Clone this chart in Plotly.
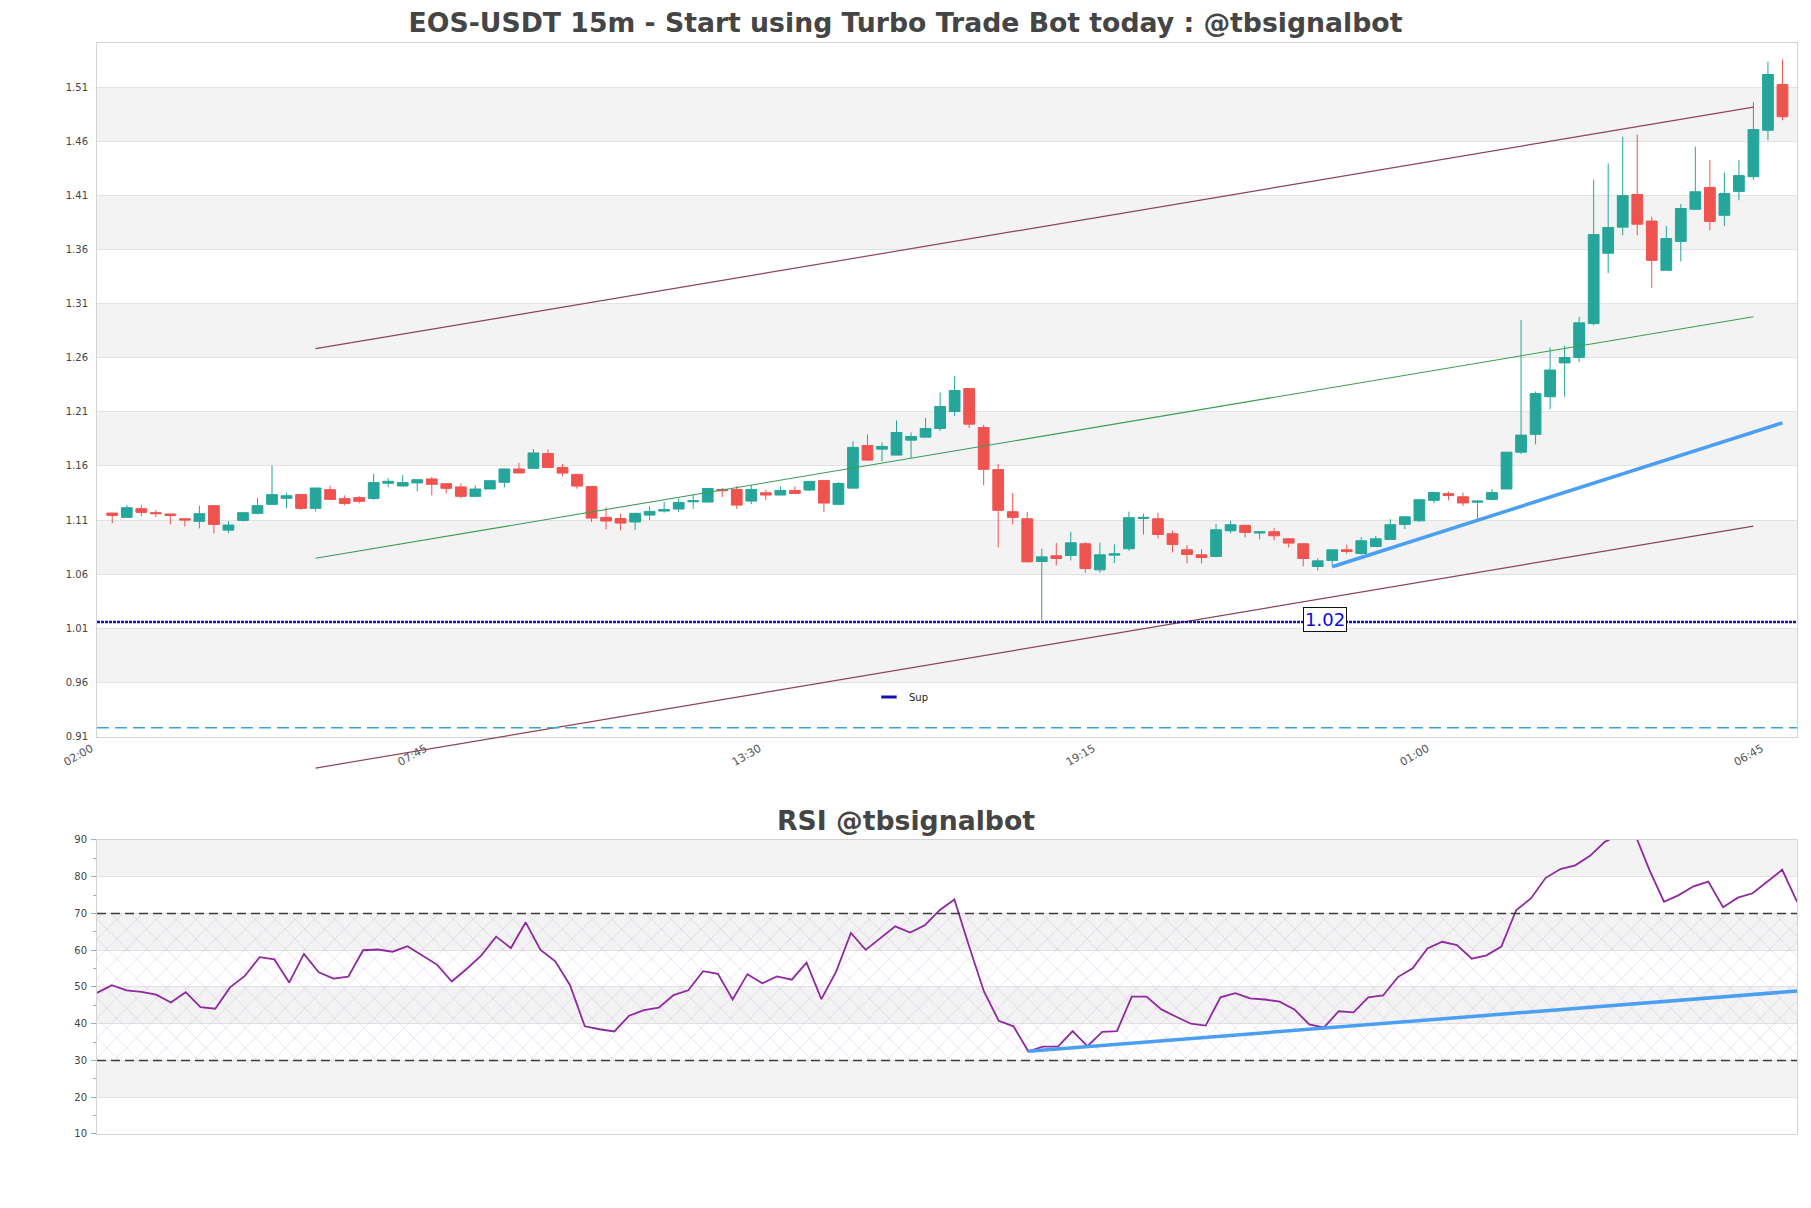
import pandas as pd
import plotly.graph_objects as go

# ---------------- data ----------------
start_time = "2023-03-20 02:00"
n_candles = 116
times = pd.date_range(start_time, periods=n_candles, freq="15min")

opens = [1.1165, 1.1125, 1.1205, 1.1168, 1.1156, 1.1112, 1.1088, 1.1233, 1.1007, 1.1097,
         1.1162, 1.1245, 1.1301, 1.1335, 1.1208, 1.1381, 1.1298, 1.1307, 1.1298, 1.1440,
         1.1415, 1.1443, 1.1480, 1.1436, 1.1406, 1.1319, 1.1387, 1.1449, 1.1572, 1.1578,
         1.1715, 1.1586, 1.1522, 1.1411, 1.1125, 1.1115, 1.1082, 1.1146, 1.1183, 1.1202,
         1.1269, 1.1266, 1.1383, 1.1383, 1.1275, 1.1352, 1.1331, 1.1374, 1.1377, 1.1466,
         1.1245, 1.1395, 1.1789, 1.1755, 1.1700, 1.1838, 1.1866, 1.1946, 1.2103, 1.2315,
         1.1955, 1.1566, 1.1177, 1.1112, 1.0717, 1.0770, 1.0773, 1.0881, 1.0640, 1.0776,
         1.0835, 1.1115, 1.1112, 1.0973, 1.0825, 1.0779, 1.0764, 1.1001, 1.1051, 1.0980,
         1.0992, 1.0927, 1.0881, 1.0671, 1.0727, 1.0825, 1.0791, 1.0856, 1.0921, 1.1060,
         1.1093, 1.1282, 1.1344, 1.1315, 1.1265, 1.1291, 1.1387, 1.1727, 1.1892, 1.2239,
         1.2552, 1.2602, 1.2915, 1.3565, 1.3806, 1.4107, 1.3862, 1.3407, 1.3674, 1.3971,
         1.4173, 1.3915, 1.4136, 1.4272, 1.4701, 1.5123]
highs = [1.1165, 1.1239, 1.1239, 1.1193, 1.1156, 1.1112, 1.1233, 1.1239, 1.1091, 1.1168,
         1.1307, 1.1603, 1.1353, 1.1335, 1.1396, 1.1418, 1.1328, 1.1322, 1.1529, 1.1489,
         1.1517, 1.1473, 1.1498, 1.1436, 1.1436, 1.1421, 1.1464, 1.1572, 1.1628, 1.1757,
         1.1752, 1.1620, 1.1522, 1.1411, 1.1217, 1.1158, 1.1168, 1.1229, 1.1269, 1.1297,
         1.1337, 1.1392, 1.1398, 1.1414, 1.1423, 1.1377, 1.1414, 1.1411, 1.1457, 1.1466,
         1.1451, 1.1826, 1.1891, 1.1817, 1.2020, 1.1909, 1.2045, 1.2278, 1.2429, 1.2315,
         1.1980, 1.1619, 1.1350, 1.1174, 1.0835, 1.0887, 1.0992, 1.0896, 1.0890, 1.0875,
         1.1177, 1.1159, 1.1168, 1.1004, 1.0869, 1.0831, 1.1066, 1.1094, 1.1051, 1.0998,
         1.1029, 1.0927, 1.0881, 1.0748, 1.0831, 1.0872, 1.0943, 1.0955, 1.1109, 1.1130,
         1.1288, 1.1364, 1.1364, 1.1354, 1.1281, 1.1387, 1.1727, 1.2948, 1.2288, 1.2694,
         1.2711, 1.2978, 1.4245, 1.4394, 1.4641, 1.4661, 1.3902, 1.3816, 1.4021, 1.4549,
         1.4427, 1.4311, 1.4427, 1.4961, 1.5334, 1.5354]
lows = [1.1072, 1.1125, 1.1134, 1.1128, 1.1060, 1.1041, 1.1023, 1.0977, 1.0977, 1.1088,
        1.1152, 1.1239, 1.1208, 1.1193, 1.1180, 1.1291, 1.1236, 1.1254, 1.1288, 1.1402,
        1.1412, 1.1365, 1.1328, 1.1347, 1.1301, 1.1319, 1.1387, 1.1402, 1.1535, 1.1572,
        1.1586, 1.1506, 1.1389, 1.1082, 1.1014, 1.1005, 1.1008, 1.1100, 1.1168, 1.1174,
        1.1202, 1.1266, 1.1312, 1.1202, 1.1248, 1.1285, 1.1331, 1.1346, 1.1368, 1.1174,
        1.1238, 1.1395, 1.1645, 1.1642, 1.1700, 1.1672, 1.1866, 1.1922, 1.2060, 1.1949,
        1.1421, 1.0847, 1.1060, 1.0708, 1.0177, 1.0680, 1.0727, 1.0615, 1.0615, 1.0702,
        1.0816, 1.0967, 1.0930, 1.0801, 1.0699, 1.0699, 1.0757, 1.0977, 1.0940, 1.0921,
        1.0912, 1.0847, 1.0671, 1.0634, 1.0671, 1.0788, 1.0779, 1.0856, 1.0921, 1.1017,
        1.1083, 1.1255, 1.1282, 1.1229, 1.1083, 1.1281, 1.1387, 1.1711, 1.1800, 1.2123,
        1.2239, 1.2559, 1.2899, 1.3381, 1.3730, 1.3730, 1.3242, 1.3407, 1.3489, 1.3971,
        1.3777, 1.3816, 1.4054, 1.4242, 1.4608, 1.4793]
closes = [1.1143, 1.1214, 1.1171, 1.1159, 1.1143, 1.1100, 1.1159, 1.1060, 1.1054, 1.1168,
          1.1233, 1.1335, 1.1325, 1.1208, 1.1396, 1.1291, 1.1254, 1.1273, 1.1446, 1.1458,
          1.1446, 1.1473, 1.1430, 1.1393, 1.1319, 1.1387, 1.1464, 1.1572, 1.1535, 1.1720,
          1.1586, 1.1534, 1.1414, 1.1118, 1.1091, 1.1072, 1.1162, 1.1180, 1.1198, 1.1263,
          1.1278, 1.1392, 1.1371, 1.1238, 1.1383, 1.1331, 1.1374, 1.1346, 1.1457, 1.1257,
          1.1438, 1.1771, 1.1654, 1.1780, 1.1909, 1.1872, 1.1946, 1.2149, 1.2297, 1.1986,
          1.1569, 1.1190, 1.1125, 1.0714, 1.0760, 1.0745, 1.0890, 1.0652, 1.0779, 1.0788,
          1.1122, 1.1125, 1.0967, 1.0875, 1.0782, 1.0754, 1.1010, 1.1057, 1.0986, 1.0992,
          1.0955, 1.0887, 1.0745, 1.0723, 1.0825, 1.0810, 1.0909, 1.0927, 1.1057, 1.1130,
          1.1288, 1.1354, 1.1328, 1.1258, 1.1275, 1.1354, 1.1727, 1.1885, 1.2268, 1.2486,
          1.2602, 1.2922, 1.3737, 1.3803, 1.4097, 1.3833, 1.3499, 1.3701, 1.3978, 1.4133,
          1.3859, 1.4117, 1.4282, 1.4707, 1.5216, 1.4826]

rsi = [48.4, 50.5, 49.1, 48.7, 47.9, 45.8, 48.6, 44.5, 44.1, 49.9,
       53.0, 58.1, 57.5, 51.2, 59.0, 54.0, 52.3, 52.8, 60.0, 60.2,
       59.6, 61.1, 58.6, 56.1, 51.5, 54.9, 58.6, 63.7, 60.6, 67.6,
       60.1, 57.0, 50.5, 39.3, 38.5, 37.9, 42.2, 43.7, 44.4, 47.8,
       49.1, 54.3, 53.6, 46.6, 53.5, 51.0, 52.9, 52.0, 56.6, 46.7,
       54.2, 64.7, 60.1, 63.4, 66.5, 64.8, 66.8, 70.9, 73.8, 61.0,
       48.8, 40.8, 39.3, 32.5, 33.8, 33.8, 38.0, 33.9, 37.8, 38.0,
       47.4, 47.4, 43.9, 41.9, 40.0, 39.5, 47.2, 48.3, 46.9, 46.6,
       46.0, 43.9, 39.8, 39.0, 43.4, 43.1, 47.2, 47.7, 52.7, 55.1,
       60.5, 62.3, 61.4, 57.7, 58.6, 61.0, 70.9, 74.1, 79.7, 82.1,
       83.1, 85.7, 89.5, 91.5, 92.0, 82.0, 73.2, 75.0, 77.4, 78.7,
       71.7, 74.3, 75.5, 78.7, 81.9, 73.2]

tick_idx = [0, 23, 46, 69, 92, 115]
tick_text = ["02:00", "07:45", "13:30", "19:15", "01:00", "06:45"]
y_ticks = [0.91, 0.96, 1.01, 1.06, 1.11, 1.16, 1.21, 1.26, 1.31, 1.36, 1.41, 1.46, 1.51]
y_range = [0.9096, 1.5507]
rsi_ticks = [10, 20, 30, 40, 50, 60, 70, 80, 90]

# trend / channel lines: candle index and price of both ends
channel_idx = [14, 113]
channel_upper = [1.2683, 1.4914]
channel_mid = [1.0747, 1.2978]
channel_lower = [0.8809, 1.1044]
trend_idx = [84, 115]
trend_price = [1.0669, 1.1998]
sup_level = 1.0158
sup_label = "1.02"
sup_label_idx = 83.5
low_dash_level = 0.9182

rsi_hi, rsi_lo = 70, 30
rsi_trend_idx = [63, 115]
rsi_trend_val = [32.5, 48.9]

# ---------------- styles ----------------
FONT = "DejaVu Sans"
UP, DOWN = "#26a69a", "#ef5350"
BAND = "#f3f3f3"
GRID = "#e2e2e2"
AXLINE = "#d4d4d4"
TREND_BLUE = "#4a9ff2"
step = pd.Timedelta(minutes=15)

# page has an 8px body margin: figure is 1795x1192, placed at (8, 8)
FIG_W, FIG_H = 1795, 1192

fig = go.Figure()

fig.add_trace(go.Candlestick(
    x=times, open=opens, high=highs, low=lows, close=closes,
    increasing=dict(line=dict(color=UP, width=1), fillcolor=UP),
    decreasing=dict(line=dict(color=DOWN, width=1), fillcolor=DOWN),
    whiskerwidth=0, showlegend=False, xaxis="x", yaxis="y", hoverinfo="skip"))

cx = [times[i] for i in channel_idx]
fig.add_trace(go.Scatter(x=cx, y=channel_upper, mode="lines",
                         line=dict(color="#8c4457", width=1.2), showlegend=False,
                         xaxis="x", yaxis="y"))
fig.add_trace(go.Scatter(x=cx, y=channel_mid, mode="lines",
                         line=dict(color="#3a9c55", width=1.1), showlegend=False,
                         xaxis="x", yaxis="y"))
fig.add_trace(go.Scatter(x=[times[i] for i in trend_idx], y=trend_price, mode="lines",
                         line=dict(color=TREND_BLUE, width=3.5), showlegend=False,
                         xaxis="x", yaxis="y"))
fig.add_trace(go.Scatter(x=[None], y=[None], mode="markers", name="Sup",
                         marker=dict(symbol="line-ew", size=11, color="#1111bb",
                                     line=dict(color="#1111bb", width=3)),
                         xaxis="x", yaxis="y"))

# RSI hatch zone
t0, t1 = times[0], times[-1]
fig.add_trace(go.Scatter(x=[t0, t1, t1, t0, t0], y=[rsi_lo, rsi_lo, rsi_hi, rsi_hi, rsi_lo],
                         mode="lines", line=dict(width=0), fill="toself",
                         fillcolor="rgba(0,0,0,0)",
                         fillpattern=dict(shape="x", fgcolor="rgba(200,140,215,0.75)",
                                          size=14, solidity=0.1),
                         showlegend=False, hoverinfo="skip", xaxis="x2", yaxis="y2"))
fig.add_trace(go.Scatter(x=times, y=rsi, mode="lines",
                         line=dict(color="#8e2a9e", width=1.8), showlegend=False,
                         xaxis="x2", yaxis="y2"))
fig.add_trace(go.Scatter(x=[times[i] for i in rsi_trend_idx], y=rsi_trend_val, mode="lines",
                         line=dict(color=TREND_BLUE, width=3.5), showlegend=False,
                         xaxis="x2", yaxis="y2"))

shapes = []
for lo, hi in zip(y_ticks[1::2], y_ticks[2::2]):
    shapes.append(dict(type="rect", xref="x domain", yref="y", x0=0, x1=1, y0=lo, y1=hi,
                       fillcolor=BAND, line=dict(width=0), layer="below"))
for lo, hi in zip(rsi_ticks[1::2], rsi_ticks[2::2]):
    shapes.append(dict(type="rect", xref="x2 domain", yref="y2", x0=0, x1=1, y0=lo, y1=hi,
                       fillcolor=BAND, line=dict(width=0), layer="below"))
span = y_range[1] - y_range[0]
shapes.append(dict(type="line", xref="x", yref="y domain",
                   x0=cx[0], x1=cx[1],
                   y0=(channel_lower[0] - y_range[0]) / span,
                   y1=(channel_lower[1] - y_range[0]) / span,
                   line=dict(color="#8c4457", width=1.2)))
shapes.append(dict(type="line", xref="x domain", yref="y", x0=0, x1=1,
                   y0=sup_level, y1=sup_level,
                   line=dict(color="#1111bb", width=2.5, dash="3px,1px")))
shapes.append(dict(type="line", xref="x domain", yref="y", x0=0, x1=1,
                   y0=low_dash_level, y1=low_dash_level,
                   line=dict(color="#3aa3dc", width=1.5, dash="12px,6px")))
for lv in (rsi_hi, rsi_lo):
    shapes.append(dict(type="line", xref="x2 domain", yref="y2", x0=0, x1=1, y0=lv, y1=lv,
                       line=dict(color="#3a3a3a", width=1.4, dash="9px,5px")))

annotations = [
    dict(text="<b>RSI @tbsignalbot</b>", xref="paper", yref="paper", x=0.4756, y=0.2878,
         xanchor="center", yanchor="middle", showarrow=False,
         font=dict(family=FONT, size=26.7, color="#454545")),
    dict(text=sup_label, xref="x", yref="y", x=times[0] + step * sup_label_idx, y=sup_level,
         xanchor="center", yanchor="middle", showarrow=False, yshift=3,
         font=dict(family=FONT, size=18, color="#0b0be0"),
         bgcolor="white", bordercolor="#111111", borderwidth=1, borderpad=1),
]

fig.update_layout(
    width=FIG_W, height=FIG_H, autosize=False,
    margin=dict(l=89, r=6, t=35, b=66),
    paper_bgcolor="white", plot_bgcolor="white",
    font=dict(family=FONT, size=10, color="#444"),
    boxgap=0.26, boxgroupgap=0,
    title=dict(text="<b>EOS-USDT 15m - Start using Turbo Trade Bot today : @tbsignalbot</b>",
               x=0.5, xref="container", xanchor="center", y=1 - 15 / FIG_H, yref="container",
               yanchor="middle", font=dict(family=FONT, size=26.7, color="#454545")),
    xaxis=dict(domain=[0, 1], anchor="y", type="date",
               range=[times[0] - step * 1.05, times[-1] + step * 1.0],
               rangeslider=dict(visible=False), showgrid=False,
               tickvals=[times[i] for i in tick_idx], ticktext=tick_text, tickangle=-30,
               ticklabelshift=-21,
               tickfont=dict(size=11, color="#555"),
               showline=True, linecolor=AXLINE, mirror=True, zeroline=False),
    yaxis=dict(domain=[0.36389, 1], anchor="x", range=y_range,
               tickvals=y_ticks, ticktext=[f"{v:.2f}" for v in y_ticks],
               ticklabelstandoff=6,
               tickfont=dict(size=10, color="#444"), showgrid=True, gridcolor=GRID,
               showline=True, linecolor=AXLINE, mirror=True, zeroline=False),
    xaxis2=dict(domain=[0, 1], anchor="y2", type="date", range=[times[0], times[-1]],
                showticklabels=False, showgrid=False,
                showline=True, linecolor=AXLINE, mirror=True, zeroline=False),
    yaxis2=dict(domain=[0, 0.26948], anchor="x2", range=[10, 90],
                tickvals=rsi_ticks, tickfont=dict(size=10, color="#444"),
                ticks="outside", ticklen=5, tickcolor="#aaa", ticklabelstandoff=2,
                minor=dict(ticks="outside", ticklen=3, dtick=5, tickcolor="#aaa", showgrid=False),
                showgrid=True, gridcolor=GRID,
                showline=True, linecolor=AXLINE, mirror=True, zeroline=False),
    legend=dict(x=0.4541, y=0.4005, xanchor="left", yanchor="middle",
                bgcolor="rgba(0,0,0,0)", font=dict(family=FONT, size=10, color="#222")),
    shapes=shapes, annotations=annotations,
    hovermode=False,
)

fig.write_html("out.html")
